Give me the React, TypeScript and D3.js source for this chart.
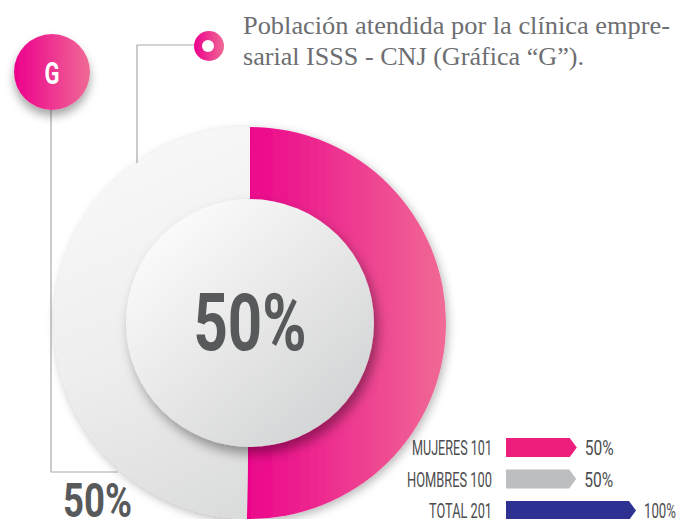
import * as d3 from 'd3'
import React, { useEffect } from 'react'

// data
const categories = ['MUJERES', 'HOMBRES']
const counts = [101, 100]
const legendRows = ['MUJERES 101', 'HOMBRES 100', 'TOTAL 201']
const legendValues = [101, 100, 201]
const legendPercents = ['50%', '50%', '100%']
const centerLabel = '50%'
const leftLabel = '50%'
const titleLines = [
  'Población atendida por la clínica empre-',
  'sarial ISSS - CNJ (Gráfica “G”).'
]

const W = 680
const H = 519
const cx = 250
const cy = 323
const outerR = 196
const innerR = 124

const barColors = ['#ee1f7c', '#bcbec0', '#2e3192']
const labelWidths = [80, 85, 63]
const pctWidths = [29, 29, 32]

export default function App() {
  useEffect(() => {
    document.body.style.margin = '0'
  }, [])

  const pie = d3
    .pie<number>()
    .sort(null)
    .startAngle(0)
    .endAngle(2 * Math.PI)
  const slices = pie(counts)
  const arc = d3
    .arc<d3.PieArcDatum<number>>()
    .innerRadius(innerR - 6)
    .outerRadius(outerR)
  const sliceFill = d3
    .scaleOrdinal<string, string>()
    .domain(categories)
    .range(['url(#pinkGrad)', 'url(#greyGrad)'])

  const y = d3
    .scaleBand<string>()
    .domain(legendRows)
    .range([438, 520])
    .paddingInner(0.4)
    .paddingOuter(0)
  const x = d3.scaleLinear().domain([0, 201]).range([11, 130])
  const barX = 506
  const bw = y.bandwidth()

  const arrow = (len: number, top: number) => {
    const p = d3.path()
    p.moveTo(barX, top)
    p.lineTo(barX + len - 7, top)
    p.lineTo(barX + len, top + bw / 2)
    p.lineTo(barX + len - 7, top + bw)
    p.lineTo(barX, top + bw)
    p.closePath()
    return p.toString()
  }

  return (
    <svg width={W} height={H} style={{ display: 'block', background: '#fff' }}>
      <defs>
        <linearGradient id="pinkGrad" gradientUnits="userSpaceOnUse" x1="0" y1="0" x2={outerR} y2="0">
          <stop offset="0" stopColor="#ec068c" />
          <stop offset="1" stopColor="#f06a95" />
        </linearGradient>
        <linearGradient id="greyGrad" gradientUnits="userSpaceOnUse" x1={-140} y1={-190} x2={30} y2={190}>
          <stop offset="0" stopColor="#f9f9f9" />
          <stop offset="0.5" stopColor="#eeeeee" />
          <stop offset="1" stopColor="#d9dada" />
        </linearGradient>
        <linearGradient id="innerGrad" x1="0.15" y1="0.1" x2="0.85" y2="0.9">
          <stop offset="0" stopColor="#fbfbfb" />
          <stop offset="1" stopColor="#d3d4d5" />
        </linearGradient>
        <linearGradient id="gGrad" x1="0" y1="0" x2="1" y2="0">
          <stop offset="0" stopColor="#ec008c" />
          <stop offset="1" stopColor="#f06a96" />
        </linearGradient>
        <filter id="outerShadow" x="-20%" y="-20%" width="140%" height="140%">
          <feDropShadow dx="2" dy="3" stdDeviation="5" floodColor="#000" floodOpacity="0.28" />
        </filter>
        <filter id="innerShadow" x="-20%" y="-20%" width="140%" height="140%">
          <feDropShadow dx="4" dy="7" stdDeviation="6" floodColor="#000" floodOpacity="0.38" />
        </filter>
        <filter id="gShadow" x="-40%" y="-40%" width="180%" height="180%">
          <feDropShadow dx="0" dy="6" stdDeviation="5" floodColor="#000" floodOpacity="0.35" />
        </filter>
      </defs>

      {/* connector lines */}
      <path d="M51,110 V472 H118" fill="none" stroke="#a7a9ac" strokeWidth={1.2} />
      <path d="M195,45 H137 V166" fill="none" stroke="#a7a9ac" strokeWidth={1.2} />

      {/* donut */}
      <g transform={`translate(${cx},${cy})`}>
        <g filter="url(#outerShadow)">
          {slices.map((s, i) => (
            <path key={i} d={arc(s) || ''} fill={sliceFill(categories[i])} />
          ))}
        </g>
        <circle r={innerR} fill="url(#innerGrad)" filter="url(#innerShadow)" />
        <text
          y={27}
          textAnchor="middle"
          fontFamily="Roboto, sans-serif"
          fontWeight="bold"
          fontSize={80}
          fill="#58595b"
          textLength={113}
          lengthAdjust="spacingAndGlyphs"
        >
          {centerLabel}
        </text>
      </g>

      {/* G badge */}
      <circle cx={52} cy={72} r={38} fill="url(#gGrad)" filter="url(#gShadow)" />
      <text
        x={52}
        y={84}
        textAnchor="middle"
        fontFamily="Roboto, sans-serif"
        fontWeight="bold"
        fontSize={31}
        fill="#fff"
        textLength={15}
        lengthAdjust="spacingAndGlyphs"
      >
        G
      </text>

      {/* small ring marker */}
      <circle cx={209} cy={46} r={15} fill="url(#gGrad)" />
      <circle cx={208} cy={46} r={6} fill="#fff" />

      {/* title */}
      {titleLines.map((t, i) => (
        <text
          key={i}
          x={243}
          y={34 + i * 31}
          fontFamily="'Liberation Serif', serif"
          fontSize={25}
          fill="#6d6e71"
          textLength={i === 0 ? 427 : 341}
          lengthAdjust="spacingAndGlyphs"
        >
          {t}
        </text>
      ))}

      {/* bottom-left label */}
      <text
        x={63}
        y={517}
        fontFamily="Roboto, sans-serif"
        fontWeight="bold"
        fontSize={49}
        fill="#58595b"
        textLength={69}
        lengthAdjust="spacingAndGlyphs"
      >
        {leftLabel}
      </text>

      {/* legend bars */}
      {legendRows.map((row, i) => {
        const top = y(row) as number
        const len = x(legendValues[i])
        return (
          <g key={row}>
            <text
              x={492}
              y={top + bw / 2 + 7.5}
              textAnchor="end"
              fontFamily="Roboto, sans-serif"
              fontSize={21}
              fill="#4d4d4f"
              textLength={labelWidths[i]}
              lengthAdjust="spacingAndGlyphs"
            >
              {row}
            </text>
            <path d={arrow(len, top)} fill={barColors[i]} />
            <text
              x={barX + len + 8}
              y={top + bw / 2 + 7.5}
              fontFamily="Roboto, sans-serif"
              fontSize={21}
              fill="#4d4d4f"
              textLength={pctWidths[i]}
              lengthAdjust="spacingAndGlyphs"
            >
              {legendPercents[i]}
            </text>
          </g>
        )
      })}
    </svg>
  )
}
